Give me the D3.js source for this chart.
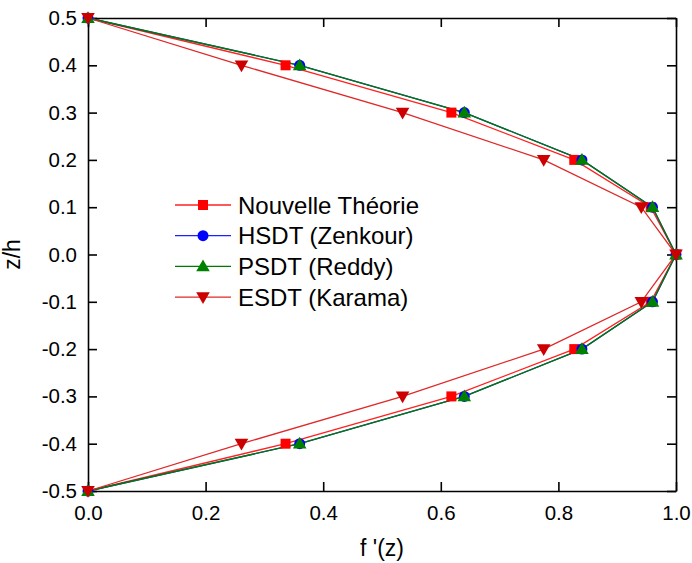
<!DOCTYPE html>
<meta charset="utf-8">
<script src="https://d3js.org/d3.v7.min.js"></script>
<style>
  body { margin: 0; background: #fff; }
  text { font-family: Arial, "Liberation Sans", sans-serif; }
</style>
<svg id="chart" width="692" height="563"></svg>
<script>
// z/h positions
const zh = [0.5, 0.4, 0.3, 0.2, 0.1, 0.0, -0.1, -0.2, -0.3, -0.4, -0.5];

// f'(z) for each theory
const nouvelle = [0, 0.336, 0.618, 0.827, 0.957, 1.0, 0.957, 0.827, 0.618, 0.336, 0];
const hsdt     = [0, 0.360, 0.640, 0.840, 0.960, 1.0, 0.960, 0.840, 0.640, 0.360, 0];
const psdt     = [0, 0.360, 0.640, 0.840, 0.960, 1.0, 0.960, 0.840, 0.640, 0.360, 0];
const esdt     = [0, 0.261, 0.535, 0.775, 0.941, 1.0, 0.941, 0.775, 0.535, 0.261, 0];

const xTicks = [0, 0.2, 0.4, 0.6, 0.8, 1.0];
const yTicks = [-0.5, -0.4, -0.3, -0.2, -0.1, 0, 0.1, 0.2, 0.3, 0.4, 0.5];

const series = [
  {name: "Nouvelle Théorie",  vals: nouvelle, line: "#ff2020", fill: "#ff0000", sym: "square"},
  {name: "HSDT (Zenkour)",    vals: hsdt,     line: "#2020ff", fill: "#0000ff", sym: "circle"},
  {name: "PSDT (Reddy)",      vals: psdt,     line: "#007a00", fill: "#008000", sym: "up"},
  {name: "ESDT (Karama)",     vals: esdt,     line: "#e02828", fill: "#cc0000", sym: "down"}
];

const svg = d3.select("#chart");
const mLeft = 88, mRight = 676, mTop = 18, mBottom = 491;

const x = d3.scaleLinear().domain([0, 1]).range([mLeft, mRight]);
const y = d3.scaleLinear().domain([-0.5, 0.5]).range([mBottom, mTop]);

const fmt = d3.format(".1f");
const tickLen = 9;

// axes (ticks inside)
svg.append("g").attr("transform", `translate(0,${mBottom})`)
  .call(d3.axisBottom(x).tickValues(xTicks).tickSizeInner(-tickLen).tickSizeOuter(0).tickPadding(14).tickFormat(fmt));
svg.append("g").attr("transform", `translate(0,${mTop})`)
  .call(d3.axisTop(x).tickValues(xTicks).tickSizeInner(-tickLen).tickSizeOuter(0).tickFormat(""));
svg.append("g").attr("transform", `translate(${mLeft},0)`)
  .call(d3.axisLeft(y).tickValues(yTicks).tickSizeInner(-tickLen).tickSizeOuter(0).tickPadding(11)
    .tickFormat(d => fmt(d).replace("−", "-")));
svg.append("g").attr("transform", `translate(${mRight},0)`)
  .call(d3.axisRight(y).tickValues(yTicks).tickSizeInner(-tickLen).tickSizeOuter(0).tickFormat(""));

svg.selectAll(".domain").attr("stroke", "#000").attr("stroke-width", 1.6);
svg.selectAll(".tick line").attr("stroke", "#000").attr("stroke-width", 1.6);
svg.selectAll(".tick text").attr("font-size", 20.5).attr("fill", "#000")
  .style("font-family", "Arial, 'Liberation Sans', sans-serif");

// axis titles
svg.append("text").attr("x", (mLeft + mRight) / 2).attr("y", 556).attr("text-anchor", "middle")
  .attr("font-size", 23).text("f '(z)");
svg.append("text").attr("transform", `translate(20,${(mTop + mBottom) / 2}) rotate(-90)`)
  .attr("text-anchor", "middle").attr("font-size", 23).text("z/h");

function drawMarker(g, s, cx, cy) {
  if (s.sym === "square") {
    g.append("rect").attr("x", cx - 5).attr("y", cy - 5).attr("width", 10).attr("height", 10).attr("fill", s.fill);
  } else if (s.sym === "circle") {
    g.append("circle").attr("cx", cx).attr("cy", cy).attr("r", 5.5).attr("fill", s.fill);
  } else {
    const sym = d3.symbol().type(d3.symbolTriangle).size(80);
    g.append("path").attr("d", sym())
      .attr("transform", `translate(${cx},${cy + (s.sym === "up" ? 1 : -1)}) rotate(${s.sym === "up" ? 0 : 180})`)
      .attr("fill", s.fill);
  }
}

const line = d3.line().x(d => x(d[0])).y(d => y(d[1]));
const plot = svg.append("g");

series.forEach(s => {
  const pts = s.vals.map((v, i) => [v, zh[i]]);
  plot.append("path").attr("d", line(pts)).attr("fill", "none")
    .attr("stroke", s.line).attr("stroke-width", 1.3);
});
series.forEach(s => {
  const g = plot.append("g");
  s.vals.forEach((v, i) => drawMarker(g, s, x(v), y(zh[i])));
});

// legend
const leg = svg.append("g");
series.forEach((s, i) => {
  const ly = 205 + i * 30.7;
  leg.append("line").attr("x1", 175).attr("x2", 231).attr("y1", ly).attr("y2", ly)
    .attr("stroke", s.line).attr("stroke-width", 1.3);
  drawMarker(leg, s, 203, ly);
  leg.append("text").attr("x", 238).attr("y", ly + 8.5).attr("font-size", 24).text(s.name);
});
</script>
